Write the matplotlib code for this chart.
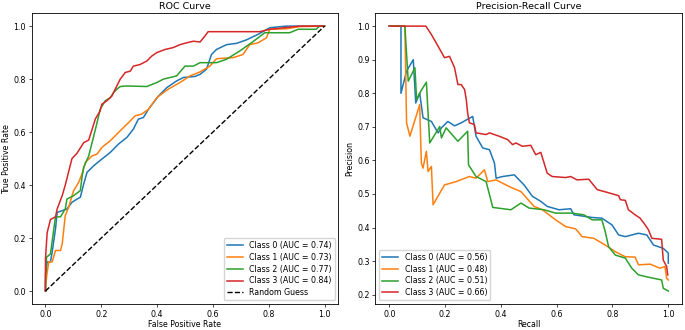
import matplotlib.pyplot as plt

# ROC curve points
fpr0 = [0, 0, 0.006, 0.018, 0.024, 0.036, 0.042, 0.06, 0.077, 0.095, 0.113, 0.125, 0.137, 0.149,
        0.173, 0.202, 0.232, 0.262, 0.292, 0.315, 0.333, 0.351, 0.369, 0.405, 0.435, 0.47, 0.494,
        0.536, 0.554, 0.577, 0.595, 0.613, 0.649, 0.685, 0.72, 0.762, 0.804, 0.863, 1.0]
tpr0 = [0, 0.034, 0.11, 0.11, 0.147, 0.235, 0.297, 0.303, 0.31, 0.335, 0.347, 0.354, 0.404, 0.448,
        0.473, 0.498, 0.523, 0.555, 0.58, 0.611, 0.649, 0.655, 0.686, 0.736, 0.768, 0.793, 0.806,
        0.81, 0.818, 0.837, 0.893, 0.912, 0.93, 0.935, 0.948, 0.969, 0.994, 1.0, 1.0]

fpr1 = [0, 0, 0.006, 0.012, 0.024, 0.036, 0.054, 0.06, 0.071, 0.083, 0.101, 0.119, 0.131, 0.143,
        0.167, 0.185, 0.202, 0.232, 0.268, 0.298, 0.321, 0.345, 0.369, 0.399, 0.44, 0.482, 0.518,
        0.554, 0.589, 0.613, 0.673, 0.708, 0.732, 0.762, 0.792, 0.804, 0.863, 0.91, 1.0]
tpr1 = [0, 0.016, 0.07, 0.11, 0.11, 0.153, 0.153, 0.178, 0.285, 0.316, 0.379, 0.41, 0.442, 0.486,
        0.51, 0.517, 0.542, 0.567, 0.605, 0.636, 0.661, 0.668, 0.686, 0.73, 0.762, 0.787, 0.812,
        0.827, 0.849, 0.877, 0.881, 0.893, 0.93, 0.937, 0.956, 0.988, 0.99, 0.998, 1.0]

fpr2 = [0, 0, 0.004, 0.018, 0.03, 0.036, 0.054, 0.071, 0.077, 0.101, 0.125, 0.131, 0.137, 0.155,
        0.167, 0.185, 0.196, 0.214, 0.232, 0.244, 0.256, 0.268, 0.292, 0.363, 0.399, 0.423, 0.47,
        0.5, 0.53, 0.554, 0.613, 0.649, 0.696, 0.738, 0.786, 0.875, 0.905, 0.97, 0.982, 1.0]
tpr2 = [0, 0.06, 0.128, 0.14, 0.235, 0.28, 0.28, 0.31, 0.347, 0.36, 0.379, 0.43, 0.467, 0.51,
        0.56, 0.636, 0.686, 0.718, 0.73, 0.749, 0.762, 0.772, 0.774, 0.772, 0.787, 0.8, 0.812,
        0.849, 0.849, 0.862, 0.862, 0.875, 0.906, 0.937, 0.975, 0.975, 0.988, 0.988, 1.0, 1.0]

fpr3 = [0, 0, 0.006, 0.018, 0.036, 0.042, 0.06, 0.071, 0.083, 0.095, 0.113, 0.125, 0.137, 0.155,
        0.167, 0.179, 0.196, 0.202, 0.22, 0.238, 0.25, 0.268, 0.286, 0.304, 0.315, 0.339, 0.363,
        0.381, 0.399, 0.429, 0.458, 0.482, 0.506, 0.53, 0.554, 0.571, 0.583, 0.768, 0.804, 0.911, 1.0]
tpr3 = [0, 0.12, 0.22, 0.27, 0.28, 0.31, 0.36, 0.4, 0.45, 0.5, 0.52, 0.54, 0.56, 0.57,
        0.61, 0.65, 0.68, 0.705, 0.718, 0.736, 0.762, 0.8, 0.825, 0.83, 0.849, 0.855, 0.868,
        0.887, 0.9, 0.912, 0.919, 0.93, 0.937, 0.943, 0.94, 0.962, 0.979, 0.979, 0.988, 1.0, 1.0]

# Precision-recall curve points
rec0 = [0, 0.042, 0.042, 0.062, 0.086, 0.095, 0.109, 0.121, 0.151, 0.175, 0.187, 0.21, 0.234,
        0.258, 0.299, 0.311, 0.335, 0.359, 0.377, 0.383, 0.406, 0.448, 0.483, 0.513, 0.543, 0.566,
        0.608, 0.65, 0.662, 0.727, 0.762, 0.798, 0.822, 0.846, 0.893, 0.923, 0.947, 0.982, 1.0, 1.0]
prec0 = [1.0, 1.0, 0.8, 0.866, 0.9, 0.771, 0.801, 0.727, 0.716, 0.682, 0.697, 0.716, 0.703,
         0.712, 0.731, 0.672, 0.637, 0.632, 0.592, 0.547, 0.552, 0.557, 0.527, 0.493, 0.478, 0.463,
         0.453, 0.456, 0.438, 0.43, 0.428, 0.408, 0.378, 0.373, 0.383, 0.378, 0.348, 0.338, 0.324, 0.294]

rec1 = [0, 0.056, 0.062, 0.074, 0.109, 0.115, 0.121, 0.133, 0.139, 0.151, 0.157, 0.198, 0.24,
        0.287, 0.311, 0.341, 0.353, 0.383, 0.43, 0.472, 0.519, 0.549, 0.596, 0.632, 0.668, 0.691,
        0.733, 0.774, 0.81, 0.846, 0.881, 0.893, 0.935, 0.97, 0.988, 0.994, 1.0]
prec1 = [1.0, 1.0, 0.712, 0.672, 0.766, 0.592, 0.577, 0.627, 0.567, 0.582, 0.468, 0.527, 0.537,
         0.552, 0.547, 0.572, 0.537, 0.542, 0.522, 0.507, 0.463, 0.453, 0.423, 0.403, 0.396, 0.373,
         0.368, 0.348, 0.328, 0.313, 0.312, 0.289, 0.291, 0.279, 0.284, 0.249, 0.244]

rec2 = [0, 0.056, 0.068, 0.092, 0.098, 0.113, 0.133, 0.145, 0.181, 0.187, 0.204, 0.246, 0.281,
        0.284, 0.311, 0.347, 0.371, 0.436, 0.472, 0.501, 0.555, 0.596, 0.655, 0.697, 0.727, 0.762,
        0.774, 0.786, 0.81, 0.846, 0.869, 0.893, 0.935, 0.976, 0.982, 1.0]
prec2 = [1.0, 1.0, 0.836, 0.876, 0.781, 0.806, 0.833, 0.652, 0.701, 0.667, 0.697, 0.657, 0.687,
         0.587, 0.552, 0.537, 0.46, 0.453, 0.473, 0.458, 0.453, 0.443, 0.443, 0.438, 0.423, 0.423,
         0.388, 0.343, 0.318, 0.309, 0.279, 0.259, 0.251, 0.244, 0.219, 0.211]

rec3 = [0, 0.131, 0.151, 0.175, 0.198, 0.216, 0.234, 0.246, 0.258, 0.27, 0.276, 0.281, 0.287,
        0.305, 0.311, 0.347, 0.359, 0.394, 0.424, 0.442, 0.454, 0.477, 0.507, 0.525, 0.543, 0.555,
        0.566, 0.584, 0.632, 0.65, 0.673, 0.715, 0.745, 0.78, 0.822, 0.828, 0.846, 0.857, 0.881,
        0.899, 0.917, 0.929, 0.941, 0.976, 0.982, 0.994, 0.998]
prec3 = [1.0, 1.0, 0.975, 0.94, 0.906, 0.91, 0.876, 0.826, 0.826, 0.811, 0.781, 0.741, 0.712,
         0.707, 0.682, 0.677, 0.682, 0.672, 0.662, 0.647, 0.652, 0.642, 0.645, 0.617, 0.624, 0.592,
         0.562, 0.552, 0.549, 0.552, 0.542, 0.544, 0.513, 0.505, 0.495, 0.483, 0.481, 0.453, 0.438,
         0.428, 0.408, 0.393, 0.368, 0.365, 0.303, 0.284, 0.259]

roc_auc = [0.74, 0.73, 0.77, 0.84]
pr_auc = [0.56, 0.48, 0.51, 0.66]
colors = ["#1f77b4", "#ff7f0e", "#2ca02c", "#d62728"]

plt.rcParams["font.size"] = 5.7
plt.rcParams["axes.linewidth"] = 0.6
plt.rcParams["xtick.major.size"] = 2
plt.rcParams["ytick.major.size"] = 2
plt.rcParams["xtick.major.width"] = 0.5
plt.rcParams["ytick.major.width"] = 0.5
plt.rcParams["xtick.major.pad"] = 1.8
plt.rcParams["ytick.major.pad"] = 2

fig, (ax1, ax2) = plt.subplots(1, 2, figsize=(6.85, 3.3), dpi=100)
fig.subplots_adjust(left=0.046, right=0.996, bottom=0.078, top=0.961, wspace=0.12)

# ROC
fprs = [fpr0, fpr1, fpr2, fpr3]
tprs = [tpr0, tpr1, tpr2, tpr3]
for i in range(4):
    ax1.plot(fprs[i], tprs[i], color=colors[i], lw=1.1,
             label=f"Class {i} (AUC = {roc_auc[i]:.2f})")
ax1.plot([0, 1], [0, 1], "k--", lw=1.0, label="Random Guess")
ax1.set_title("ROC Curve", fontsize=6.8, pad=3)
ax1.set_xlabel("False Positive Rate", labelpad=1)
ax1.set_ylabel("True Positive Rate", labelpad=2)
ax1.legend(loc="lower right", handlelength=2.0, borderpad=0.4, labelspacing=0.35)

# Precision-Recall
recs = [rec0, rec1, rec2, rec3]
precs = [prec0, prec1, prec2, prec3]
for i in range(4):
    ax2.plot(recs[i], precs[i], color=colors[i], lw=1.1,
             label=f"Class {i} (AUC = {pr_auc[i]:.2f})")
ax2.set_title("Precision-Recall Curve", fontsize=6.8, pad=3)
ax2.set_xlabel("Recall", labelpad=1)
ax2.set_ylabel("Precision", labelpad=2)
ax2.legend(loc="lower left", handlelength=2.0, borderpad=0.4, labelspacing=0.35)

plt.savefig("out.png")
